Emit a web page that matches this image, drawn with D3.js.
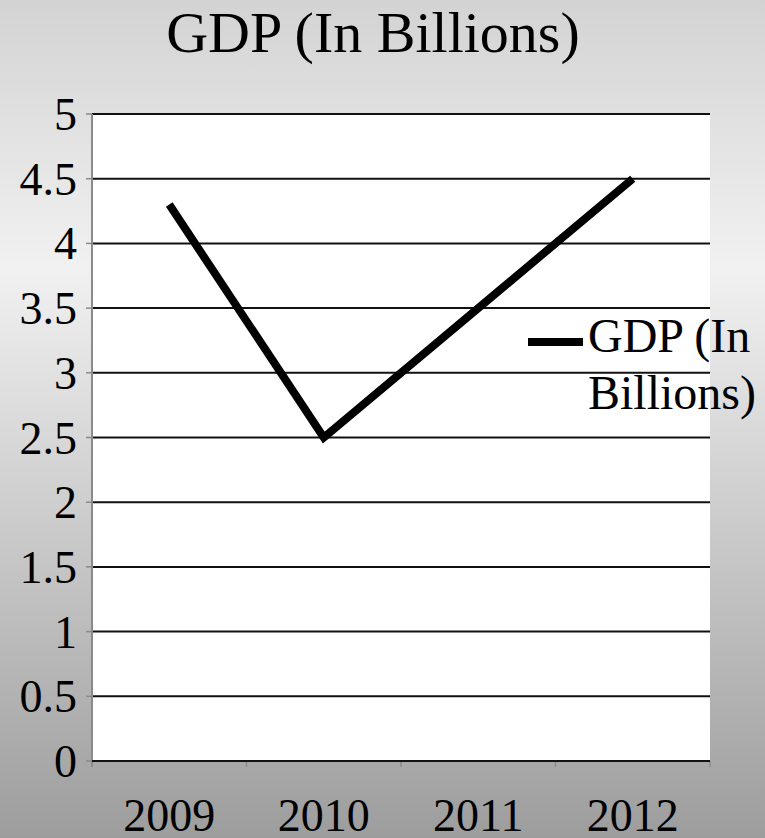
<!DOCTYPE html>
<meta charset="utf-8">
<style>
body { margin: 0; }
</style>
<body>
<script src="https://d3js.org/d3.v7.min.js"></script>
<script>

var years = ["2009", "2010", "2011", "2012"];
var gdp = [4.3, 2.5, 3.5, 4.5];
var yTicks = [0, 0.5, 1, 1.5, 2, 2.5, 3, 3.5, 4, 4.5, 5];
var seriesName = "GDP (In Billions)";
var legendLines = ["GDP (In", "Billions)"];

var width = 765,
    height = 838;

var plot = {left: 92, top: 114, right: 710, bottom: 761};
var font = "Liberation Serif";

var svg = d3.select("body").append("svg")
    .attr("width", width)
    .attr("height", height);

var grad = svg.append("defs").append("linearGradient")
    .attr("id", "bg")
    .attr("x1", 0).attr("y1", 0).attr("x2", 0).attr("y2", 1);
grad.append("stop").attr("offset", 0).attr("stop-color", "#d3d3d3");
grad.append("stop").attr("offset", 0.32).attr("stop-color", "#f1f1f1");
grad.append("stop").attr("offset", 1).attr("stop-color", "#9d9d9d");

svg.append("rect")
    .attr("width", width)
    .attr("height", height)
    .attr("fill", "url(#bg)");

var x = d3.scaleBand()
    .domain(years)
    .range([plot.left, plot.right]);

var y = d3.scaleLinear()
    .domain([0, 5])
    .range([plot.bottom, plot.top]);

svg.append("rect")
    .attr("x", plot.left)
    .attr("y", plot.top)
    .attr("width", plot.right - plot.left)
    .attr("height", plot.bottom - plot.top)
    .attr("fill", "#fff");

// gridlines
svg.selectAll(".grid")
    .data(yTicks)
  .enter().append("line")
    .attr("class", "grid")
    .attr("x1", plot.left)
    .attr("x2", plot.right)
    .attr("y1", function(d) { return y(d); })
    .attr("y2", function(d) { return y(d); })
    .attr("stroke", "#111")
    .attr("stroke-width", 2);

// y ticks
svg.selectAll(".ytick")
    .data(yTicks)
  .enter().append("line")
    .attr("x1", plot.left - 6)
    .attr("x2", plot.left)
    .attr("y1", function(d) { return y(d); })
    .attr("y2", function(d) { return y(d); })
    .attr("stroke", "#8a8a8a")
    .attr("stroke-width", 1.5);

svg.append("line")
    .attr("x1", plot.left).attr("x2", plot.left)
    .attr("y1", plot.top).attr("y2", plot.bottom + 6)
    .attr("stroke", "#8a8a8a")
    .attr("stroke-width", 2);

svg.selectAll(".ylabel")
    .data(yTicks)
  .enter().append("text")
    .attr("x", 77)
    .attr("y", function(d) { return y(d) + 16; })
    .attr("text-anchor", "end")
    .attr("font-family", font)
    .attr("font-size", 46)
    .text(function(d) { return String(d); });

// x ticks at band edges
var edges = years.map(function(d) { return x(d); }).concat([plot.right]);
svg.selectAll(".xtick")
    .data(edges)
  .enter().append("line")
    .attr("x1", function(d) { return d; })
    .attr("x2", function(d) { return d; })
    .attr("y1", plot.bottom)
    .attr("y2", plot.bottom + 6)
    .attr("stroke", "#8a8a8a")
    .attr("stroke-width", 1.5);

svg.append("line")
    .attr("x1", plot.left).attr("x2", plot.right)
    .attr("y1", plot.bottom).attr("y2", plot.bottom)
    .attr("stroke", "#111")
    .attr("stroke-width", 2);

svg.selectAll(".xlabel")
    .data(years)
  .enter().append("text")
    .attr("x", function(d) { return x(d) + x.bandwidth() / 2; })
    .attr("y", 831)
    .attr("text-anchor", "middle")
    .attr("font-family", font)
    .attr("font-size", 46)
    .text(function(d) { return d; });

// series line
var line = d3.line()
    .x(function(d, i) { return x(years[i]) + x.bandwidth() / 2; })
    .y(function(d) { return y(d); });

svg.append("path")
    .datum(gdp)
    .attr("d", line)
    .attr("fill", "none")
    .attr("stroke", "#000")
    .attr("stroke-width", 8)
    .attr("stroke-linejoin", "miter");

// legend
svg.append("line")
    .attr("x1", 528).attr("x2", 583)
    .attr("y1", 342).attr("y2", 342)
    .attr("stroke", "#000")
    .attr("stroke-width", 8);

var leg = svg.append("text")
    .attr("font-family", font)
    .attr("font-size", 48);
leg.selectAll("tspan")
    .data(legendLines)
  .enter().append("tspan")
    .attr("x", 588)
    .attr("y", function(d, i) { return 352 + i * 57; })
    .text(function(d) { return d; });

// title
svg.append("text")
    .attr("x", 373)
    .attr("y", 52)
    .attr("text-anchor", "middle")
    .attr("font-family", font)
    .attr("font-size", 58)
    .text(seriesName);

</script>
